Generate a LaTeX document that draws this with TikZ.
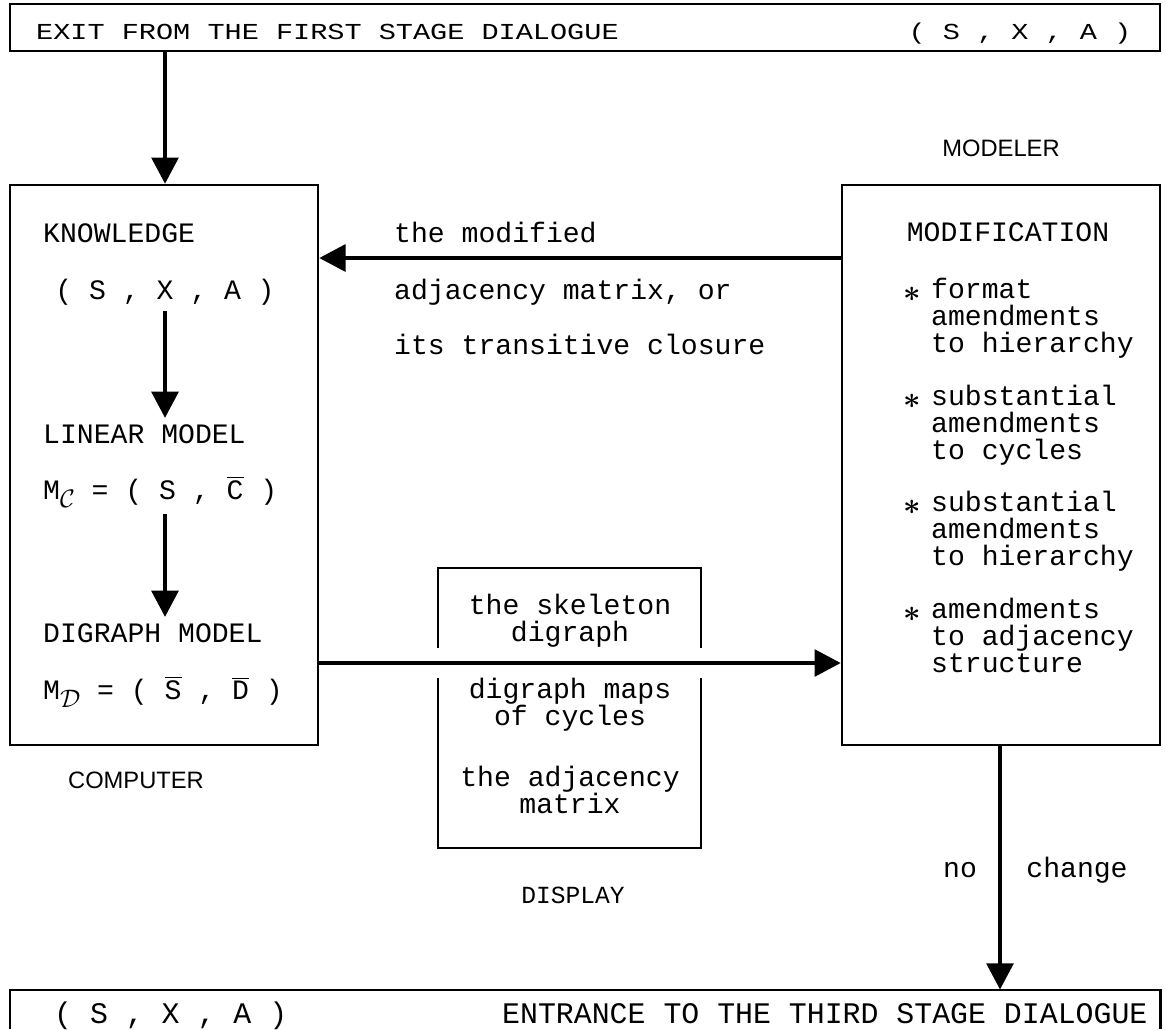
\documentclass[tikz,border=0pt]{standalone}
\usepackage{fontspec}
\usepackage{bm}
\setmonofont{Liberation Mono}
\newfontfamily\barfont{Liberation Mono}[FakeStretch=1.25]
\newfontfamily\rolefont{Liberation Sans}
\usetikzlibrary{arrows.meta,fit,calc}

\newcommand\lowsub[1]{\raisebox{-5pt}{\fontsize{14}{16}\selectfont$\mathcal{#1}$}}

\tikzset{
  every node/.style={font=\ttfamily\fontsize{16}{15.1}\selectfont},
  panel/.style={draw, line width=1.3pt, inner sep=0pt},
  flow/.style={line width=2.8pt, -{Triangle[length=15pt,width=15pt]}},
  txt/.style={anchor=base west, align=left},
  centred/.style={anchor=base, align=center},
  role/.style={anchor=base, font=\rolefont\fontsize{13.5}{16}\selectfont},
  bartxt/.style={anchor=base west, font=\barfont\fontsize{13}{16}\selectfont},
  lowtxt/.style={anchor=base west, font=\ttfamily\fontsize{17}{20}\selectfont}
}

\begin{document}
\begin{tikzpicture}[x=0.02cm, y=-0.02cm]
  \useasboundingbox (0,0) rectangle (1166,1029);

  % stage bars
  \node[panel, fit={(10,4) (1160,51)}] (exitbar) {};
  \node[bartxt] (exitlbl) at (30,39) {EXIT FROM THE FIRST STAGE DIALOGUE};
  \node[bartxt, anchor=base] (exitsxa) at (1020,39) {( S , X , A )};
  \node[inner sep=0pt, fit={(10,990) (1160,1029)}] (entrybar) {};
  \draw[line width=1.3pt] (entrybar.south west) |- (entrybar.north east) -- (entrybar.south east);
  \node[lowtxt] (entrysxa) at (48,1023) {( S , X , A )};
  \node[lowtxt] (entrylbl) at (496,1023) {ENTRANCE TO THE THIRD STAGE DIALOGUE};

  % computer side
  \node[panel, fit={(10,185) (318,745)}] (computer) {};
  \node[txt] (knowledge) at (37,242) {KNOWLEDGE};
  \node[anchor=base] (sxa) at (165,299) {( S , X , A )};
  \node[txt] (linear) at (37,443) {LINEAR MODEL};
  \node[txt] (mc) at (37,499) {M\lowsub{C} = ( S , $\overline{\hbox{C}}$ )};
  \node[txt] (digraph) at (37,642) {DIGRAPH MODEL};
  \node[txt] (md) at (37,699) {M\lowsub{D} = ( $\overline{\hbox{S}}$ , $\overline{\hbox{D}}$ )};
  \node[role] (computerlbl) at (136,788) {COMPUTER};

  \draw[flow] (exitbar.south -| sxa) -- (computer.north -| sxa);
  \draw[flow] (sxa.south) -- (sxa |- linear.north);
  \draw[flow] (sxa |- mc.south) -- (sxa |- digraph.north);

  % modeler side (multi-line texts sit on their last line)
  \node[panel, fit={(842,185) (1160,745)}] (modeler) {};
  \node[role] (modelerlbl) at (1001,156) {MODELER};
  \node[anchor=base] (modif) at (1008,241) {MODIFICATION};
  \node[anchor=base] (star1) at (912,301) {$\bm{\ast}$};
  \node[txt] (fmt) at (925,352) {format\\amendments\\to hierarchy};
  \node[anchor=base] (star2) at (912,408) {$\bm{\ast}$};
  \node[txt] (subcyc) at (925,459) {substantial\\amendments\\to cycles};
  \node[anchor=base] (star3) at (912,514) {$\bm{\ast}$};
  \node[txt] (subhier) at (925,565) {substantial\\amendments\\to hierarchy};
  \node[anchor=base] (star4) at (912,621) {$\bm{\ast}$};
  \node[txt] (adjst) at (925,672) {amendments\\to adjacency\\structure};

  % display
  \node[panel, fit={(438,568) (701,848)}] (display) {};
  \node[centred] (skel) at (570,641) {the skeleton\\digraph};
  \node[centred] (maps) at (570,725) {digraph maps\\of cycles};
  \node[centred] (adjm) at (570,813) {the adjacency\\matrix};
  \node[anchor=base, font=\ttfamily\fontsize{14}{16}\selectfont] (displaylbl) at (573,903) {DISPLAY};

  % feedback and forward connectors
  \coordinate (back) at (580,258);
  \coordinate (fwd) at (580,663);
  \node[txt] (fb1) at (388,242) {the modified};
  \node[txt] (fb2) at (388,299) {adjacency matrix, or};
  \node[txt] (fb3) at (388,354) {its transitive closure};
  \draw[flow] (modeler.west |- back) -- (computer.east |- back);
  \foreach \side in {west,east}
    \fill[white] ($(display.\side |- fwd)+(-6,-15)$) rectangle ($(display.\side |- fwd)+(6,15)$);
  \draw[flow] (computer.east |- fwd) -- (modeler.west |- fwd);

  % no change
  \coordinate (nochange) at (1000,868);
  \draw[flow] (modeler.south -| nochange) -- (entrybar.north -| nochange);
  \node[anchor=base] (nolbl) at (960,877) {no};
  \node[anchor=base] (changelbl) at (1077,877) {change};
\end{tikzpicture}
\end{document}
